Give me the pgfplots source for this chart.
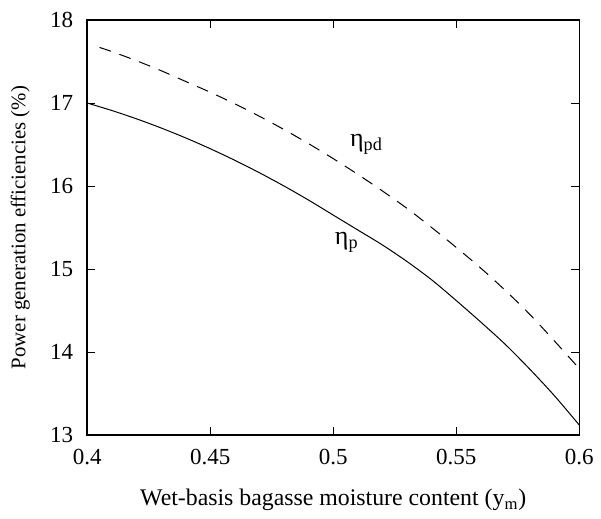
\documentclass[border=0pt]{standalone}
\usepackage{fontspec}
\setmainfont{Liberation Serif}
\usepackage{pgfplots}
\pgfplotsset{compat=1.18}
\begin{document}
\begin{tikzpicture}
\begin{axis}[
  width=246pt, height=207.5pt, scale only axis,
  xmin=0.4, xmax=0.6, ymin=13, ymax=18,
  xtick={0.4,0.45,0.5,0.55,0.6},
  xticklabels={0.4,0.45,0.5,0.55,0.6},
  ytick={13,14,15,16,17,18},
  tick align=inside, major tick length=4pt,
  tick style={black, line width=0.5pt},
  axis line style={line width=0.8pt},
  /pgf/number format/assume math mode=true,
  ticklabel style={font=\rmfamily\fontsize{11.5}{13}\selectfont},
  xticklabel style={yshift=-3.5pt},
  yticklabel style={xshift=-3.5pt},
  xlabel={Wet-basis bagasse moisture content (y\textsubscript{m})},
  ylabel={Power generation efficiencies (\%)},
  xlabel style={font=\rmfamily\fontsize{11.9}{13}\selectfont, at={(axis description cs:0.5,0)}, anchor=center, yshift=-32.5pt},
  ylabel style={font=\rmfamily\fontsize{10.4}{12}\selectfont, at={(axis description cs:0,0.5)}, anchor=center, yshift=33.5pt},
  every axis plot/.append style={black, line width=0.5pt},
]
\addplot[solid, smooth] coordinates {
(0.40,17.00) (0.41,16.91) (0.42,16.81) (0.43,16.70) (0.44,16.58)
(0.45,16.45) (0.46,16.31) (0.47,16.16) (0.48,16.00) (0.49,15.83)
(0.50,15.65) (0.51,15.47) (0.52,15.29) (0.53,15.09) (0.54,14.87)
(0.55,14.62) (0.56,14.36) (0.57,14.09) (0.58,13.79) (0.59,13.47) (0.60,13.12)};
\addplot[smooth, dash pattern=on 6pt off 4.5pt] coordinates {
(0.405,17.67) (0.41,17.62) (0.42,17.51) (0.43,17.39) (0.44,17.26)
(0.45,17.13) (0.46,16.99) (0.47,16.84) (0.48,16.68) (0.49,16.51)
(0.50,16.33) (0.51,16.14) (0.52,15.94) (0.53,15.73) (0.54,15.50)
(0.55,15.26) (0.56,15.01) (0.57,14.74) (0.58,14.45) (0.59,14.13) (0.60,13.80)};
\node[font=\fontsize{13}{15}\selectfont] at (axis cs:0.5135,16.50) {η\textsubscript{pd}};
\node[font=\fontsize{13}{15}\selectfont] at (axis cs:0.5055,15.32) {η\textsubscript{p}};
\end{axis}
\path ([shift={(-2pt,-0.5pt)}]current bounding box.south west) rectangle ([shift={(0.3pt,2.8pt)}]current bounding box.north east);
\end{tikzpicture}
\end{document}
